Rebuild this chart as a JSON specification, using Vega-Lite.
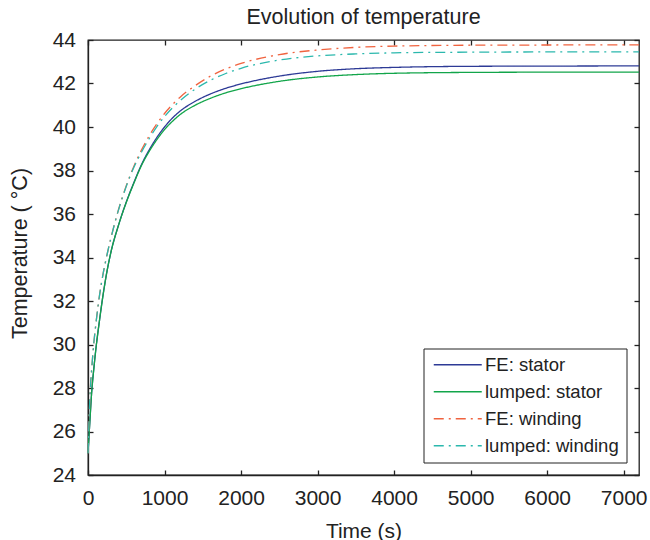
{
  "$schema": "https://vega.github.io/schema/vega-lite/v6.json",
  "width": 551,
  "height": 435,
  "autosize": {"type": "none"},
  "padding": {"left": 88, "top": 40, "right": 11, "bottom": 65},
  "background": "white",
  "config": {
    "font": "Liberation Sans",
    "view": {"stroke": "#222", "strokeWidth": 1.3},
    "axis": {
      "grid": false,
      "domainColor": "#222",
      "domainWidth": 1.3,
      "tickColor": "#222",
      "tickWidth": 1.3,
      "tickSize": -5,
      "labelFontSize": 21,
      "labelColor": "#222",
      "labelPadding": 17.5,
      "labelFlush": false,
      "titleFontSize": 21,
      "titleFontWeight": "normal",
      "titleColor": "#222"
    }
  },
  "title": {
    "text": "Evolution of temperature",
    "fontSize": 21.5,
    "fontWeight": "normal",
    "color": "#222",
    "baseline": "alphabetic",
    "offset": 12,
    "dy": 28,
    "frame": "group",
    "anchor": "middle"
  },
  "data": {
    "values": [
      {"time": 0, "series": "FE: stator", "temp": 25},
      {"time": 10, "series": "FE: stator", "temp": 25.6},
      {"time": 25, "series": "FE: stator", "temp": 26.5},
      {"time": 50, "series": "FE: stator", "temp": 27.9},
      {"time": 75, "series": "FE: stator", "temp": 28.85},
      {"time": 100, "series": "FE: stator", "temp": 29.7},
      {"time": 150, "series": "FE: stator", "temp": 31.1},
      {"time": 200, "series": "FE: stator", "temp": 32.35},
      {"time": 250, "series": "FE: stator", "temp": 33.4},
      {"time": 300, "series": "FE: stator", "temp": 34.25},
      {"time": 400, "series": "FE: stator", "temp": 35.5},
      {"time": 500, "series": "FE: stator", "temp": 36.55},
      {"time": 600, "series": "FE: stator", "temp": 37.45},
      {"time": 700, "series": "FE: stator", "temp": 38.28},
      {"time": 800, "series": "FE: stator", "temp": 38.95},
      {"time": 900, "series": "FE: stator", "temp": 39.52},
      {"time": 1000, "series": "FE: stator", "temp": 40.0},
      {"time": 1100, "series": "FE: stator", "temp": 40.4},
      {"time": 1200, "series": "FE: stator", "temp": 40.72},
      {"time": 1400, "series": "FE: stator", "temp": 41.18},
      {"time": 1600, "series": "FE: stator", "temp": 41.52},
      {"time": 1800, "series": "FE: stator", "temp": 41.78},
      {"time": 2000, "series": "FE: stator", "temp": 41.98},
      {"time": 2500, "series": "FE: stator", "temp": 42.34},
      {"time": 3000, "series": "FE: stator", "temp": 42.56},
      {"time": 3500, "series": "FE: stator", "temp": 42.68},
      {"time": 4000, "series": "FE: stator", "temp": 42.74},
      {"time": 5000, "series": "FE: stator", "temp": 42.79},
      {"time": 6000, "series": "FE: stator", "temp": 42.8},
      {"time": 7200, "series": "FE: stator", "temp": 42.81},
      {"time": 0, "series": "lumped: stator", "temp": 25},
      {"time": 10, "series": "lumped: stator", "temp": 25.6},
      {"time": 25, "series": "lumped: stator", "temp": 26.5},
      {"time": 50, "series": "lumped: stator", "temp": 27.9},
      {"time": 75, "series": "lumped: stator", "temp": 28.85},
      {"time": 100, "series": "lumped: stator", "temp": 29.7},
      {"time": 150, "series": "lumped: stator", "temp": 31.1},
      {"time": 200, "series": "lumped: stator", "temp": 32.35},
      {"time": 250, "series": "lumped: stator", "temp": 33.4},
      {"time": 300, "series": "lumped: stator", "temp": 34.25},
      {"time": 400, "series": "lumped: stator", "temp": 35.5},
      {"time": 500, "series": "lumped: stator", "temp": 36.53},
      {"time": 600, "series": "lumped: stator", "temp": 37.42},
      {"time": 700, "series": "lumped: stator", "temp": 38.24},
      {"time": 800, "series": "lumped: stator", "temp": 38.88},
      {"time": 900, "series": "lumped: stator", "temp": 39.42},
      {"time": 1000, "series": "lumped: stator", "temp": 39.88},
      {"time": 1100, "series": "lumped: stator", "temp": 40.25},
      {"time": 1200, "series": "lumped: stator", "temp": 40.56},
      {"time": 1400, "series": "lumped: stator", "temp": 41.0},
      {"time": 1600, "series": "lumped: stator", "temp": 41.32},
      {"time": 1800, "series": "lumped: stator", "temp": 41.57},
      {"time": 2000, "series": "lumped: stator", "temp": 41.76},
      {"time": 2500, "series": "lumped: stator", "temp": 42.1},
      {"time": 3000, "series": "lumped: stator", "temp": 42.3},
      {"time": 3500, "series": "lumped: stator", "temp": 42.41},
      {"time": 4000, "series": "lumped: stator", "temp": 42.47},
      {"time": 5000, "series": "lumped: stator", "temp": 42.51},
      {"time": 6000, "series": "lumped: stator", "temp": 42.52},
      {"time": 7200, "series": "lumped: stator", "temp": 42.52},
      {"time": 0, "series": "FE: winding", "temp": 25},
      {"time": 10, "series": "FE: winding", "temp": 26.1},
      {"time": 25, "series": "FE: winding", "temp": 27.6},
      {"time": 50, "series": "FE: winding", "temp": 28.95},
      {"time": 75, "series": "FE: winding", "temp": 30.03},
      {"time": 100, "series": "FE: winding", "temp": 30.85},
      {"time": 150, "series": "FE: winding", "temp": 32.25},
      {"time": 200, "series": "FE: winding", "temp": 33.3},
      {"time": 250, "series": "FE: winding", "temp": 34.15},
      {"time": 300, "series": "FE: winding", "temp": 34.9},
      {"time": 400, "series": "FE: winding", "temp": 36.22},
      {"time": 500, "series": "FE: winding", "temp": 37.3},
      {"time": 600, "series": "FE: winding", "temp": 38.2},
      {"time": 700, "series": "FE: winding", "temp": 38.95},
      {"time": 800, "series": "FE: winding", "temp": 39.6},
      {"time": 900, "series": "FE: winding", "temp": 40.15},
      {"time": 1000, "series": "FE: winding", "temp": 40.62},
      {"time": 1200, "series": "FE: winding", "temp": 41.36},
      {"time": 1400, "series": "FE: winding", "temp": 41.9},
      {"time": 1600, "series": "FE: winding", "temp": 42.34},
      {"time": 1800, "series": "FE: winding", "temp": 42.67},
      {"time": 2000, "series": "FE: winding", "temp": 42.92},
      {"time": 2500, "series": "FE: winding", "temp": 43.33},
      {"time": 3000, "series": "FE: winding", "temp": 43.54},
      {"time": 3500, "series": "FE: winding", "temp": 43.66},
      {"time": 4000, "series": "FE: winding", "temp": 43.72},
      {"time": 5000, "series": "FE: winding", "temp": 43.76},
      {"time": 6000, "series": "FE: winding", "temp": 43.77},
      {"time": 7200, "series": "FE: winding", "temp": 43.78},
      {"time": 0, "series": "lumped: winding", "temp": 25},
      {"time": 10, "series": "lumped: winding", "temp": 26.1},
      {"time": 25, "series": "lumped: winding", "temp": 27.6},
      {"time": 50, "series": "lumped: winding", "temp": 28.95},
      {"time": 75, "series": "lumped: winding", "temp": 30.03},
      {"time": 100, "series": "lumped: winding", "temp": 30.85},
      {"time": 150, "series": "lumped: winding", "temp": 32.25},
      {"time": 200, "series": "lumped: winding", "temp": 33.3},
      {"time": 250, "series": "lumped: winding", "temp": 34.15},
      {"time": 300, "series": "lumped: winding", "temp": 34.9},
      {"time": 400, "series": "lumped: winding", "temp": 36.2},
      {"time": 500, "series": "lumped: winding", "temp": 37.27},
      {"time": 600, "series": "lumped: winding", "temp": 38.15},
      {"time": 700, "series": "lumped: winding", "temp": 38.85},
      {"time": 800, "series": "lumped: winding", "temp": 39.47},
      {"time": 900, "series": "lumped: winding", "temp": 40.02},
      {"time": 1000, "series": "lumped: winding", "temp": 40.48},
      {"time": 1200, "series": "lumped: winding", "temp": 41.2},
      {"time": 1400, "series": "lumped: winding", "temp": 41.74},
      {"time": 1600, "series": "lumped: winding", "temp": 42.15},
      {"time": 1800, "series": "lumped: winding", "temp": 42.46},
      {"time": 2000, "series": "lumped: winding", "temp": 42.7},
      {"time": 2500, "series": "lumped: winding", "temp": 43.08},
      {"time": 3000, "series": "lumped: winding", "temp": 43.27},
      {"time": 3500, "series": "lumped: winding", "temp": 43.36},
      {"time": 4000, "series": "lumped: winding", "temp": 43.41},
      {"time": 5000, "series": "lumped: winding", "temp": 43.44},
      {"time": 6000, "series": "lumped: winding", "temp": 43.45},
      {"time": 7200, "series": "lumped: winding", "temp": 43.45}
    ]
  },
  "layer": [
    {
      "mark": {"type": "line", "strokeWidth": 1.3, "interpolate": "monotone"},
      "encoding": {
        "x": {
          "field": "time", "type": "quantitative",
          "scale": {"domain": [0, 7200], "nice": false},
          "axis": {
            "orient": "bottom",
            "values": [0, 1000, 2000, 3000, 4000, 5000, 6000, 7000],
            "format": "d",
            "title": "Time (s)",
            "titleBaseline": "alphabetic",
            "titleY": 62
          }
        },
        "y": {
          "field": "temp", "type": "quantitative",
          "scale": {"domain": [24, 44], "nice": false, "zero": false},
          "axis": {
            "orient": "left",
            "values": [24, 26, 28, 30, 32, 34, 36, 38, 40, 42, 44],
            "format": "d",
            "title": "Temperature ( °C)",
            "titleFontSize": 21.5,
            "titleAngle": -90,
            "titleBaseline": "alphabetic",
            "titleAlign": "center",
            "titleX": -62,
            "titleY": 213
          }
        },
        "color": {
          "field": "series", "type": "nominal",
          "scale": {
            "domain": ["FE: stator", "lumped: stator", "FE: winding", "lumped: winding"],
            "range": ["#2D3A96", "#12A54A", "#F0633F", "#2BB8AD"]
          },
          "legend": {
            "orient": "none", "legendX": 335.5, "legendY": 308.5,
            "title": null,
            "symbolType": "M-1,0H7", "symbolSize": 144, "symbolStrokeWidth": 1.3,
            "labelFontSize": 18.5, "labelColor": "#222", "labelOffset": 36, "labelLimit": 400,
            "rowPadding": 8, "padding": 7,
            "strokeColor": "#222", "fillColor": "white"
          }
        },
        "strokeDash": {
          "field": "series", "type": "nominal",
          "scale": {
            "domain": ["FE: stator", "lumped: stator", "FE: winding", "lumped: winding"],
            "range": [[1, 0], [1, 0], [10, 5, 2, 5], [10, 5, 2, 5]]
          },
          "legend": {
            "orient": "none", "legendX": 335.5, "legendY": 308.5,
            "title": null,
            "symbolType": "M-1,0H7", "symbolSize": 144, "symbolStrokeWidth": 1.3,
            "labelFontSize": 18.5, "labelColor": "#222", "labelOffset": 36, "labelLimit": 400,
            "rowPadding": 8, "padding": 7,
            "strokeColor": "#222", "fillColor": "white"
          }
        }
      }
    },
    {
      "mark": {"type": "line", "opacity": 0},
      "encoding": {
        "x": {
          "field": "time", "type": "quantitative",
          "axis": {
            "orient": "top", "labels": false, "title": null, "domain": false,
            "values": [0, 1000, 2000, 3000, 4000, 5000, 6000, 7000]
          }
        },
        "y": {
          "field": "temp", "type": "quantitative",
          "axis": {
            "orient": "right", "labels": false, "title": null, "domain": false,
            "values": [24, 26, 28, 30, 32, 34, 36, 38, 40, 42, 44]
          }
        },
        "detail": {"field": "series"}
      }
    }
  ],
  "resolve": {"axis": {"x": "independent", "y": "independent"}}
}
